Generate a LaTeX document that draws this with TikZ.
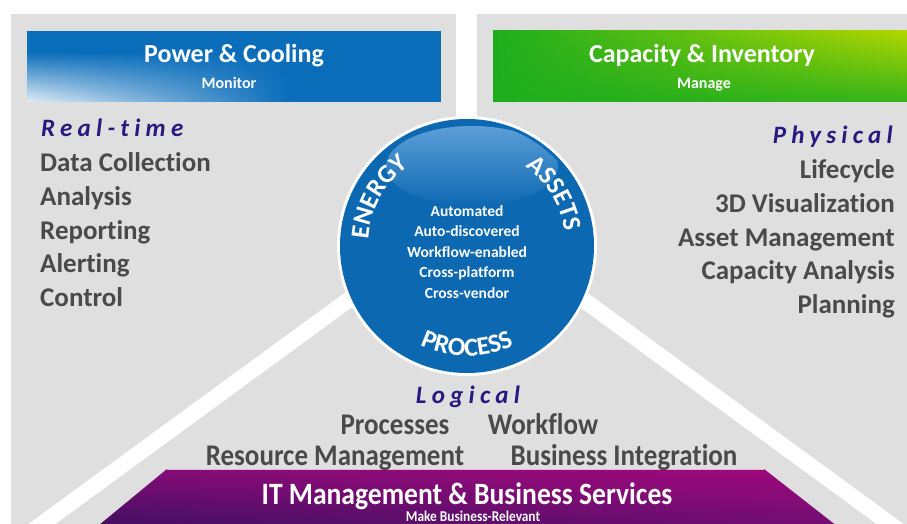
\documentclass[tikz,border=0pt]{standalone}
\usepackage{fontspec}
\setmainfont{Carlito}[Ligatures=NoCommon]
\usetikzlibrary{positioning,decorations.text,shadings}

\definecolor{panelgray}{HTML}{DFDFDF}
\definecolor{bodygray}{HTML}{4A4A4A}
\definecolor{headnavy}{HTML}{261A80}
\definecolor{pcblue}{HTML}{0A6DBA}
\definecolor{hubblue}{HTML}{0D68B2}
\definecolor{hubhigh}{HTML}{5C9FD8}
\definecolor{cigreen}{HTML}{1EAD1E}
\definecolor{ciyellow}{HTML}{B2D600}
\definecolor{itdark}{HTML}{3C1060}
\definecolor{itmid}{HTML}{6E0E72}
\definecolor{itmag}{HTML}{A2087C}

\begin{document}
\begin{tikzpicture}[x=1pt,y=-1pt,
      hdrtitle/.style={text=white, inner sep=0pt, font=\bfseries\fontsize{26}{26}\selectfont},
      hdrsub/.style={text=white, inner sep=0pt, font=\bfseries\fontsize{16}{16}\selectfont},
      listhead/.style={text=headnavy, inner sep=0pt, text height=20pt, text depth=6pt,
         font=\bfseries\itshape\fontsize{25}{25}\selectfont\addfontfeature{LetterSpace=21}},
      listitem/.style={text=bodygray, inner sep=0pt, text height=20pt, text depth=6pt,
         font=\bfseries\fontsize{27}{27}\selectfont},
      logicitem/.style={text=bodygray, inner sep=0pt, xscale=0.9,
         font=\bfseries\fontsize{30}{30}\selectfont},
      ittitle/.style={text=white, inner sep=0pt, xscale=0.89,
         font=\bfseries\fontsize{31}{31}\selectfont},
      itsub/.style={text=white, inner sep=0pt, xscale=0.89,
         font=\bfseries\fontsize{15}{15}\selectfont},
      hubtxt/.style={text=white, inner sep=0pt, align=center,
         font=\bfseries\fontsize{15.5}{20.6}\selectfont},
      hubarc/.style={decorate, decoration={text along path, text align=center,
         text color=white, text={|\bfseries\fontsize{26}{26}\selectfont|#1}}},
      divider/.style={white, line width=16pt},
      node distance=7.2pt and 0pt
      ]
      \useasboundingbox (0,0) rectangle (907,524);
      \fill[panelgray] (11,14) rectangle (907,524);

      % white gaps between the three panels
      \coordinate (apex) at (466,214);
      \coordinate (lfoot) at (20,540);
      \coordinate (rfoot) at (912,540);
      \begin{scope}
         \clip (11,14) rectangle (907,524);
         \draw[divider] (apex) -- (lfoot);
         \draw[divider] (apex) -- (rfoot);
      \end{scope}
      \fill[white] (456,14) rectangle (477,200);

      % headers
      \fill[pcblue] (27,31) rectangle (441,102);
      \shade[upper left=pcblue, upper right=pcblue, lower right=pcblue,
         lower left=white!88!pcblue] (27,52) rectangle (290,102);
      \node[hdrtitle, anchor=base] (pctitle) at (234,63) {Power \& Cooling};
      \node[hdrsub, anchor=base] (pcsub) at (229,88.5) {Monitor};
      \shade[lower left=cigreen, upper left=cigreen, lower right=cigreen!85!ciyellow,
         upper right=ciyellow] (493,31) rectangle (907,102);
      \node[hdrtitle, anchor=base] (cititle) at (702,63) {Capacity \& Inventory};
      \node[hdrsub, anchor=base] (cisub) at (704,88.5) {Manage};

      % bottom band
      \shade[upper right=itmag, upper left=itmid!60!itmag, lower left=itdark,
         lower right=itmid] (167,469) -- (764,469) -- (842,530) -- (93,530) -- cycle;
      \draw[white!70!itmag, line width=1pt] (167,469) -- (764,469);
      \node[ittitle, anchor=base] (itmgmt) at (467,504) {IT Management \& Business Services};
      \node[itsub, anchor=base] (itrel) at (473,521) {Make Business-Relevant};

      % hub circle
      \coordinate (hub) at (467,246);
      \fill[white] (hub) circle (130pt);
      \fill[hubblue] (hub) circle (127pt);
      \begin{scope}
         \clip (hub) circle (124pt);
         \shade[top color=hubhigh, bottom color=hubblue] (472,166) ellipse (86pt and 40pt);
      \end{scope}
      \node[hubtxt] (hubfeat) at (467,252)
         {Automated\\Auto-discovered\\Workflow-enabled\\Cross-platform\\Cross-vendor};
      \path[hubarc=ENERGY] ([shift={(207:99pt)}]hub) arc (207:95:99pt);
      \path[hubarc=ASSETS] ([shift={(85:99pt)}]hub) arc (85:-23:99pt);
      \path[hubarc=PROCESS] ([shift={(216:110pt)}]hub) arc (216:324:110pt);

      % real-time list
      \node[listhead, anchor=base west] (realtime) at (41,136) {Real-time};
      \node[listitem, below right=9.5pt and -1pt of realtime.south west] (datacoll) {Data Collection};
      \node[listitem, below right=of datacoll.south west] (analysis) {Analysis};
      \node[listitem, below right=of analysis.south west] (reporting) {Reporting};
      \node[listitem, below right=of reporting.south west] (alerting) {Alerting};
      \node[listitem, below right=of alerting.south west] (control) {Control};

      % physical list
      \node[listhead, anchor=base east] (physical) at (893,143) {Physical};
      \node[listitem, below left=9.5pt and -2pt of physical.south east] (lifecyc) {Lifecycle};
      \node[listitem, below left=of lifecyc.south east] (visual) {3D Visualization};
      \node[listitem, below left=of visual.south east] (assetmgmt) {Asset Management};
      \node[listitem, below left=of assetmgmt.south east] (capanal) {Capacity Analysis};
      \node[listitem, below left=of capanal.south east] (planning) {Planning};

      % logical list
      \node[listhead, anchor=base] (logical) at (468,403) {Logical};
      \node[logicitem, anchor=base] (procs) at (395,434.5) {Processes};
      \node[logicitem, anchor=base] (wflow) at (543,434.5) {Workflow};
      \node[logicitem, anchor=base] (resmgmt) at (335,465.5) {Resource Management};
      \node[logicitem, anchor=base] (bizint) at (624,465.5) {Business Integration};
\end{tikzpicture}
\end{document}
